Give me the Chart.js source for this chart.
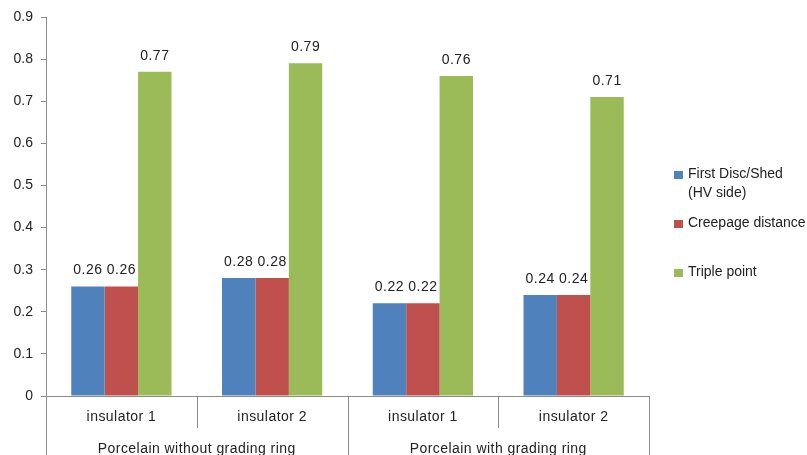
<!DOCTYPE html>
<html>
<head>
<meta charset="utf-8">
<script src="https://cdn.jsdelivr.net/npm/chart.js@4/dist/chart.umd.min.js"></script>
<style>
  html, body { margin: 0; padding: 0; background: #fff; }
  #wrap { width: 807px; height: 455px; position: relative; }
</style>
</head>
<body>
<div id="wrap"><canvas id="c" width="807" height="455"></canvas></div>
<script>
// Categories: insulator within each porcelain configuration
const categories = ['insulator 1', 'insulator 2', 'insulator 1', 'insulator 2'];
const groups = ['Porcelain without grading ring', 'Porcelain with grading ring'];
const seriesNames = ['First Disc/Shed (HV side)', 'Creepage distance', 'Triple point'];
const legendLines = [['First Disc/Shed', '(HV side)'], ['Creepage distance'], ['Triple point']];
const firstDisc = [0.26, 0.28, 0.22, 0.24];
const creepage = [0.26, 0.28, 0.22, 0.24];
const triplePoint = [0.77, 0.79, 0.76, 0.71];
const colors = ['#4F81BD', '#C0504D', '#9BBB59'];

const FONT = '"Liberation Sans", Arial, sans-serif';
const TEXT = '#222';
const AXIS = '#8c8c8c';

// Value labels above each bar
const valueLabels = {
  id: 'valueLabels',
  afterDatasetsDraw(chart) {
    const ctx = chart.ctx;
    ctx.save();
    ctx.font = '14px ' + FONT;
    ctx.letterSpacing = '0.5px';
    ctx.fillStyle = TEXT;
    ctx.textAlign = 'center';
    ctx.textBaseline = 'middle';
    chart.data.datasets.forEach((ds, i) => {
      chart.getDatasetMeta(i).data.forEach((bar, j) => {
        ctx.fillText(ds.data[j].toFixed(2), bar.x, bar.y - 16);
      });
    });
    ctx.restore();
  }
};

// Two-level category axis: separators and group labels
const groupAxis = {
  id: 'groupAxis',
  afterDraw(chart) {
    const ctx = chart.ctx;
    const x = chart.scales.x;
    const area = chart.chartArea;
    const H = chart.height;
    const n = categories.length;
    const step = (x.right - x.left) / n;
    ctx.save();
    ctx.strokeStyle = AXIS;
    ctx.lineWidth = 1;
    // y axis continues through the label rows
    ctx.beginPath();
    ctx.moveTo(Math.round(x.left) + 0.5, area.bottom);
    ctx.lineTo(Math.round(x.left) + 0.5, H);
    ctx.stroke();
    // short tick left of zero
    ctx.beginPath();
    ctx.moveTo(x.left - 5, Math.round(area.bottom) + 0.5);
    ctx.lineTo(x.left, Math.round(area.bottom) + 0.5);
    ctx.stroke();
    for (let i = 1; i <= n; i++) {
      const px = Math.round(x.left + step * i) + 0.5;
      const full = (i % 2 === 0);
      ctx.beginPath();
      ctx.moveTo(px, area.bottom);
      ctx.lineTo(px, full ? H : area.bottom + 32);
      ctx.stroke();
    }
    ctx.font = '14px ' + FONT;
    ctx.letterSpacing = '0.45px';
    ctx.fillStyle = TEXT;
    ctx.textAlign = 'center';
    ctx.textBaseline = 'middle';
    categories.forEach((c, i) => {
      ctx.fillText(c, x.left + step * (i + 0.5), area.bottom + 21);
    });
    groups.forEach((g, i) => {
      ctx.fillText(g, x.left + step * (2 * i + 1), area.bottom + 53);
    });
    ctx.restore();
  }
};

// Legend on the right
const sideLegend = {
  id: 'sideLegend',
  afterDraw(chart) {
    const ctx = chart.ctx;
    const ys = [174, 223, 272];
    ctx.save();
    ctx.font = '14px ' + FONT;
    ctx.fillStyle = TEXT;
    ctx.textBaseline = 'middle';
    legendLines.forEach((lines, i) => {
      ctx.fillStyle = colors[i];
      ctx.fillRect(674, ys[i] - 3, 9, 8);
      ctx.fillStyle = TEXT;
      lines.forEach((t, k) => ctx.fillText(t, 688, ys[i] + k * 19));
    });
    ctx.restore();
  }
};

new Chart(document.getElementById('c'), {
  type: 'bar',
  data: {
    labels: categories,
    datasets: [
      { label: seriesNames[0], data: firstDisc, backgroundColor: colors[0] },
      { label: seriesNames[1], data: creepage, backgroundColor: colors[1] },
      { label: seriesNames[2], data: triplePoint, backgroundColor: colors[2] }
    ]
  },
  options: {
    responsive: false,
    animation: false,
    layout: { padding: { left: 0, right: 158, top: 17, bottom: 0 } },
    datasets: { bar: { categoryPercentage: 0.665, barPercentage: 1.0 } },
    plugins: { legend: { display: false }, tooltip: { enabled: false } },
    scales: {
      x: {
        grid: { display: false },
        border: { display: true, color: AXIS },
        ticks: { display: false },
        afterFit(s) { s.height = 59; }
      },
      y: {
        min: 0, max: 0.9,
        grid: { drawOnChartArea: false, tickLength: 5, color: AXIS },
        border: { color: AXIS },
        ticks: {
          stepSize: 0.1,
          padding: 8,
          color: TEXT,
          font: { family: FONT, size: 14 },
          callback: v => (Math.round(v * 10) / 10).toString()
        },
        afterFit(s) { s.width = 46; }
      }
    }
  },
  plugins: [valueLabels, groupAxis, sideLegend]
});
</script>
</body>
</html>
